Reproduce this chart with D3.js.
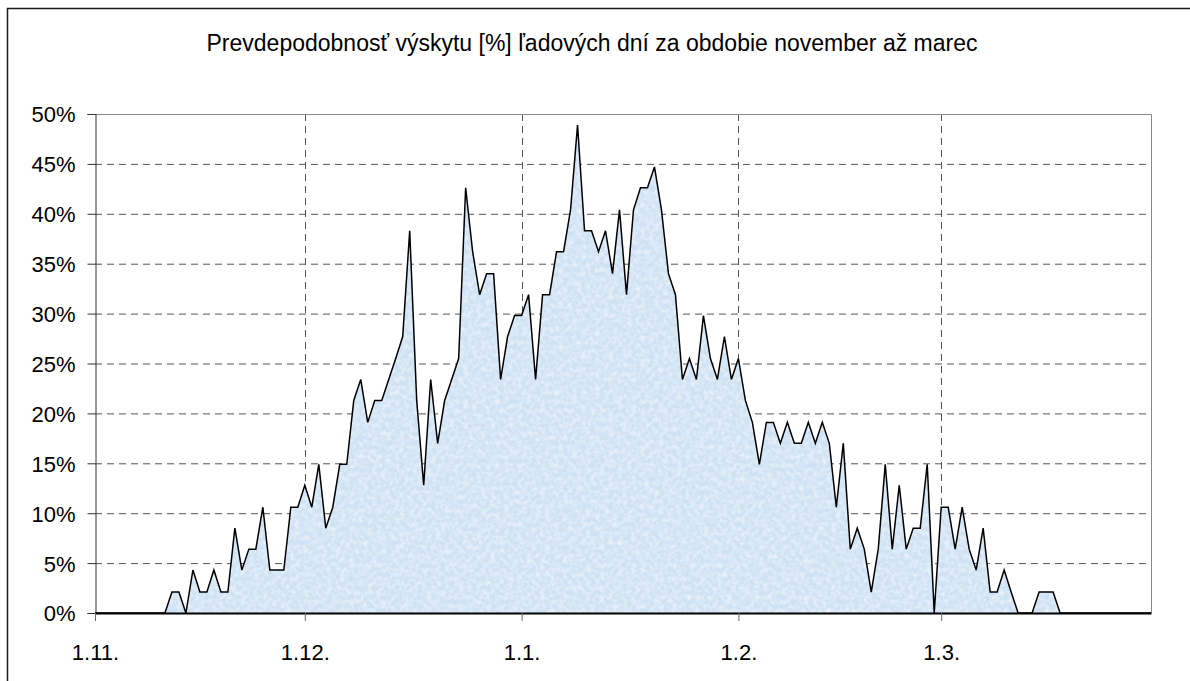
<!DOCTYPE html>
<html>
<head>
<meta charset="utf-8">
<script src="https://cdn.jsdelivr.net/npm/d3@7"></script>
<style>
  html, body { margin: 0; padding: 0; background: #fff; }
  svg { display: block; font-family: "Liberation Sans", Arial, sans-serif; }
</style>
</head>
<body>
<script>
// ---- data (probability of ice days, %), one array per month ----
const titleText = "Prevdepodobnosť výskytu [%] ľadových dní za obdobie november až marec";
const novValues = [0,0,0,0,0,0,0,0,0,0, 0,2.1,2.1,0,4.3,2.1,2.1,4.3,2.1,2.1, 8.5,4.3,6.4,6.4,10.6,4.3,4.3,4.3,10.6,10.6];
const decValues = [12.8,10.6,14.9,8.5,10.6,14.9,14.9,21.3,23.4,19.1, 21.3,21.3,23.4,25.5,27.7,38.3,21.3,12.8,23.4,17.0, 21.3,23.4,25.5,42.6,36.2,31.9,34.0,34.0,23.4,27.7, 29.8];
const janValues = [29.8,31.9,23.4,31.9,31.9,36.2,36.2,40.4,48.9,38.3, 38.3,36.2,38.3,34.0,40.4,31.9,40.4,42.6,42.6,44.7, 40.4,34.0,31.9,23.4,25.5,23.4,29.8,25.5,23.4,27.7, 23.4];
const febValues = [25.5,21.3,19.1,14.9,19.1,19.1,17.0,19.1,17.0,17.0, 19.1,17.0,19.1,17.0,10.6,17.0,6.4,8.5,6.4,2.1, 6.4,14.9,6.4,12.8,6.4,8.5,8.5,14.9,0];
const marValues = [10.6,10.6,6.4,10.6,6.4,4.3,8.5,2.1,2.1,4.3, 2.1,0,0,0,2.1,2.1,2.1,0,0,0, 0,0,0,0,0,0,0,0,0,0, 0];
const xTickLabels = ["1.11.", "1.12.", "1.1.", "1.2.", "1.3."];
const yTickValues = [0, 5, 10, 15, 20, 25, 30, 35, 40, 45, 50];

const startDay = new Date(Date.UTC(2007, 10, 1));
const endDay = new Date(Date.UTC(2008, 2, 31));
const days = d3.utcDay.range(startDay, d3.utcDay.offset(endDay, 1));
const values = [].concat(novValues, decValues, janValues, febValues, marValues);
const data = days.map((d, i) => ({ date: d, value: values[i] }));

// ---- layout ----
const W = 1190, H = 681;
const plot = { left: 95, right: 1151, top: 114, bottom: 613 };

const svg = d3.select("body").append("svg").attr("width", W).attr("height", H);

const defs = svg.append("defs");
const f = defs.append("filter").attr("id", "tex").attr("x", 0).attr("y", 0).attr("width", 1).attr("height", 1);
f.append("feTurbulence").attr("type", "fractalNoise").attr("baseFrequency", 0.22).attr("numOctaves", 3).attr("seed", 7).attr("result", "n");
f.append("feColorMatrix").attr("in", "n").attr("type", "matrix")
  .attr("values", "0 0 0 0 1  0 0 0 0 1  0 0 0 0 1  1.1 0 0 0 -0.4").attr("result", "w");
f.append("feComposite").attr("in", "w").attr("in2", "SourceGraphic").attr("operator", "in").attr("result", "wc");
const m = f.append("feMerge");
m.append("feMergeNode").attr("in", "SourceGraphic");
m.append("feMergeNode").attr("in", "wc");

const x = d3.scaleUtc().domain([startDay, endDay]).range([plot.left, plot.right]);
const y = d3.scaleLinear().domain([0, 50]).range([plot.bottom, plot.top]);

// outer chart frame
svg.append("rect").attr("x", 7.5).attr("y", 8.5).attr("width", 1400).attr("height", 900)
  .attr("fill", "#fff").attr("stroke", "#1a1a1a").attr("stroke-width", 1.5);

// title
svg.append("text").attr("x", 592).attr("y", 51).attr("text-anchor", "middle")
  .attr("font-size", 23).attr("fill", "#000").text(titleText);

// gridlines
const months = d3.utcMonth.range(startDay, d3.utcDay.offset(endDay, 1));
svg.append("g").selectAll("line").data(yTickValues.filter(v => v > 0 && v < 50)).join("line")
  .attr("x1", plot.left).attr("x2", plot.right)
  .attr("y1", d => y(d) + 0.5).attr("y2", d => y(d) + 0.5)
  .attr("stroke", "#555").attr("stroke-width", 1).attr("stroke-dasharray", "7,5");
svg.append("g").selectAll("line").data(months.slice(1)).join("line")
  .attr("x1", d => Math.round(x(d)) + 0.5).attr("x2", d => Math.round(x(d)) + 0.5)
  .attr("y1", plot.top).attr("y2", plot.bottom)
  .attr("stroke", "#555").attr("stroke-width", 1).attr("stroke-dasharray", "7,5");

// plot border (top/right)
svg.append("path")
  .attr("d", `M${plot.left},${plot.top + 0.5}H${plot.right + 0.5}V${plot.bottom}`)
  .attr("fill", "none").attr("stroke", "#888").attr("stroke-width", 1);

// area
const area = d3.area().x(d => x(d.date)).y0(y(0)).y1(d => y(d.value));
const line = d3.line().x(d => x(d.date)).y(d => y(d.value));
svg.append("path").datum(data).attr("d", area).attr("fill", "#cfe2f4").attr("filter", "url(#tex)");
svg.append("path").datum(data).attr("d", line).attr("fill", "none")
  .attr("stroke", "#000").attr("stroke-width", 1.5).attr("stroke-linejoin", "miter");

// axes
const yAxis = d3.axisLeft(y).tickValues(yTickValues).tickFormat(d => d + "%").tickSize(8).tickPadding(12);
const gy = svg.append("g").attr("transform", `translate(${plot.left + 0.5},0)`).call(yAxis);
gy.select(".domain").attr("stroke", "#333").attr("stroke-width", 1);
gy.selectAll(".tick line").attr("stroke", "#333");
gy.selectAll(".tick text").attr("font-size", 22).attr("font-family", "Liberation Sans, Arial, sans-serif")
  .attr("fill", "#000").attr("dy", "0.36em");

const xAxis = d3.axisBottom(x).tickValues(months).tickFormat((d, i) => xTickLabels[i]).tickSize(8).tickSizeOuter(0);
const gx = svg.append("g").attr("transform", `translate(0,${plot.bottom})`).call(xAxis);
gx.select(".domain").attr("stroke", "#000").attr("stroke-width", 2);
gx.selectAll(".tick line").attr("stroke", "#666");
gx.selectAll(".tick text").attr("font-size", 22).attr("font-family", "Liberation Sans, Arial, sans-serif")
  .attr("fill", "#000").attr("y", 47).attr("dy", 0);
</script>
</body>
</html>
